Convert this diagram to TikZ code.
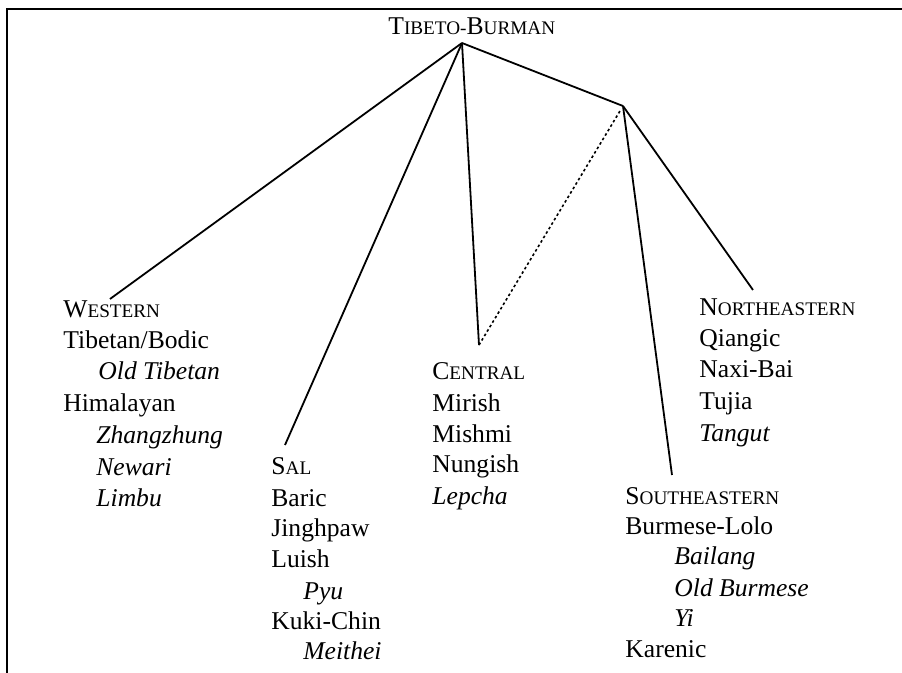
\documentclass[tikz,border=0pt]{standalone}
\usepackage{fontspec}
\setmainfont{Liberation Serif}
\tikzset{lang/.style = {anchor=base west,inner sep=0pt,font=\fontsize{12.8}{15}\selectfont}}
\tikzset{sub/.style = {lang,font=\fontsize{12.8}{15}\selectfont\itshape}}
\tikzset{branch/.style = {line width=0.9pt}}
\newcommand{\smcap}[1]{{\fontsize{9.6}{12}\selectfont #1}}

\begin{document}
\begin{tikzpicture}[x=0.5pt,y=-0.5pt]

\useasboundingbox (0,0) rectangle (902,673);
\draw[line width=1.2pt] (7,673) -- (7,9) -- (902,9);

% root and branch points
\node[lang] (tb) at (388,35) {T\smcap{IBETO-}B\smcap{URMAN}};
\coordinate (root) at (462,43);
\coordinate (split) at (623,106);
\coordinate (westend) at (110,299);
\coordinate (salend) at (285,445);
\coordinate (centend) at (479,345);
\coordinate (neend) at (753,290);
\coordinate (seend) at (672,475);

% Western
\node[lang] (west) at (63,318) {W\smcap{ESTERN}};
\node[lang] (tibetan) at (63,349) {Tibetan/Bodic};
\node[sub] (oldtib) at (98,380) {Old Tibetan};
\node[lang] (himal) at (63,412) {Himalayan};
\node[sub] (zhang) at (96,444) {Zhangzhung};
\node[sub] (newari) at (96,476) {Newari};
\node[sub] (limbu) at (96,507) {Limbu};

% Sal
\node[lang] (sal) at (271,475) {S\smcap{AL}};
\node[lang] (baric) at (271,507) {Baric};
\node[lang] (jingh) at (271,537) {Jinghpaw};
\node[lang] (luish) at (271,568) {Luish};
\node[sub] (pyu) at (303,600) {Pyu};
\node[lang] (kuki) at (271,630) {Kuki-Chin};
\node[sub] (meithei) at (303,660) {Meithei};

% Central
\node[lang] (central) at (432,380) {C\smcap{ENTRAL}};
\node[lang] (mirish) at (432,412) {Mirish};
\node[lang] (mishmi) at (432,443) {Mishmi};
\node[lang] (nungish) at (432,473) {Nungish};
\node[sub] (lepcha) at (432,505) {Lepcha};

% Northeastern
\node[lang] (northeast) at (699,316) {N\smcap{ORTHEASTERN}};
\node[lang] (qiangic) at (699,347) {Qiangic};
\node[lang] (naxi) at (699,378) {Naxi-Bai};
\node[lang] (tujia) at (699,410) {Tujia};
\node[sub] (tangut) at (699,442) {Tangut};

% Southeastern
\node[lang] (southeast) at (625,505) {S\smcap{OUTHEASTERN}};
\node[lang] (burlolo) at (625,535) {Burmese-Lolo};
\node[sub] (bailang) at (674,565) {Bailang};
\node[sub] (oldbur) at (674,597) {Old Burmese};
\node[sub] (yi) at (674,627) {Yi};
\node[lang] (karenic) at (625,658) {Karenic};

\draw[branch] (root) -- (westend);
\draw[branch] (root) -- (salend);
\draw[branch] (root) -- (centend);
\draw[branch] (root) -- (split);
\draw[line width=0.8pt,dash pattern=on 1.3pt off 1.3pt,shorten <=3pt] (split) -- (centend);
\draw[branch] (split) -- (seend);
\draw[branch] (split) -- (neend);

\end{tikzpicture}
\end{document}
